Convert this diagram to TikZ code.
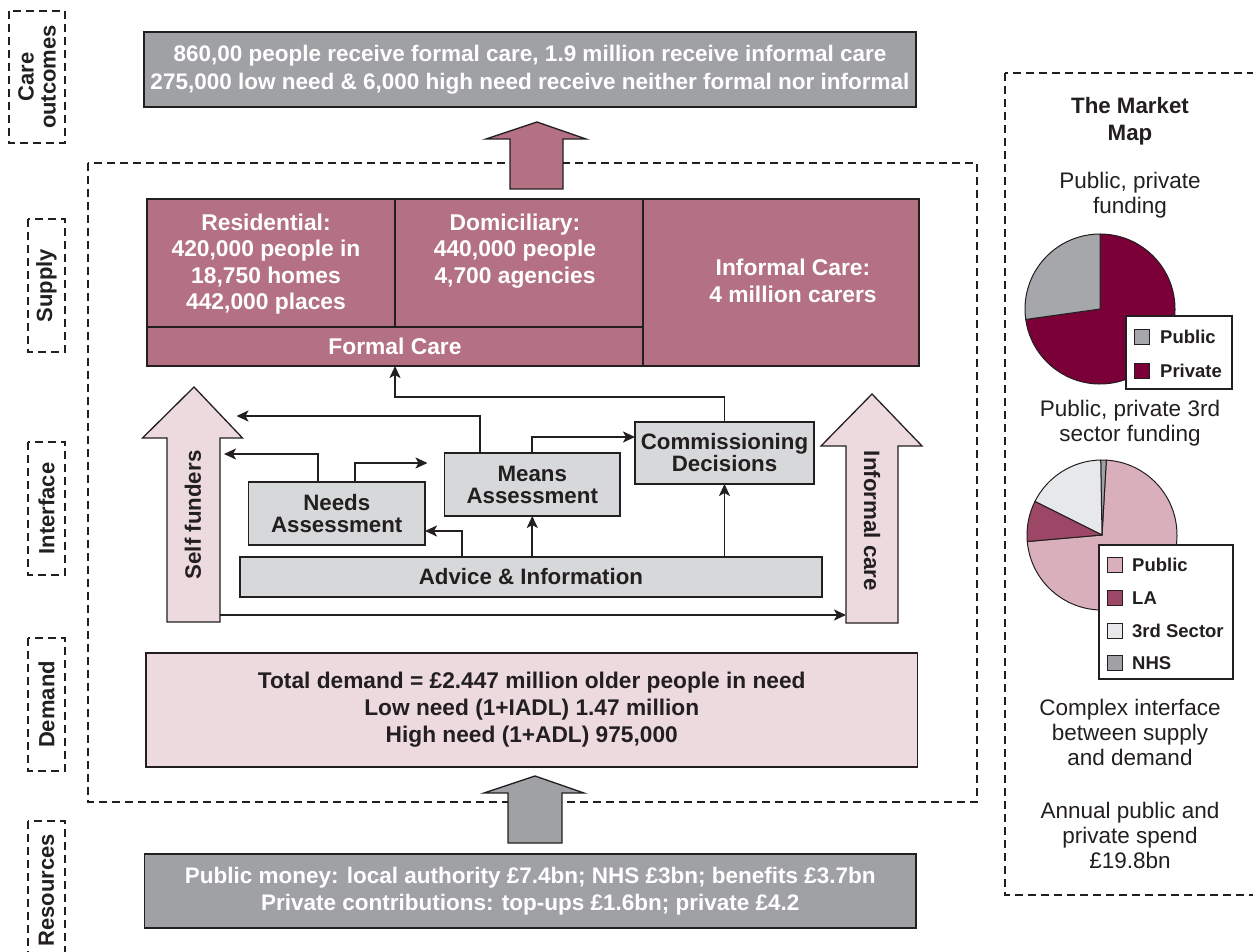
\documentclass[tikz,border=0pt]{standalone}
\usepackage{fontspec}
\setmainfont{Liberation Sans}
\usetikzlibrary{arrows.meta}

\definecolor{ink}{HTML}{231F20}
\definecolor{mauve}{HTML}{B57184}
\definecolor{blush}{HTML}{ECDADF}
\definecolor{slate}{HTML}{A0A1A4}
\definecolor{mist}{HTML}{D7D8DA}
\definecolor{wine}{HTML}{7A0037}
\definecolor{rose}{HTML}{D9AFBB}
\definecolor{berry}{HTML}{9D4766}
\definecolor{pale}{HTML}{E7E8EA}
\definecolor{pubgray}{HTML}{A6A7AA}

\tikzset{
  sidetag/.style={draw=ink, dash pattern=on 8pt off 5pt, line width=1.2pt,
    rotate=90, inner sep=0pt, align=center,
    font=\fontsize{22}{22}\selectfont\bfseries},
  frame/.style={draw=ink, dash pattern=on 8pt off 5pt, line width=1.2pt},
  panel/.style={draw=ink, line width=1.5pt, inner sep=0pt, outer sep=0pt,
    anchor=north west, align=center},
  txt/.style={inner sep=0pt, align=center},
  conn/.style={draw=ink, line width=1.8pt,
    -{Stealth[length=12pt,width=11pt,inset=3pt]}},
  blockarrow/.style={draw=ink, line width=1.3pt, line join=miter},
  slice/.style={draw=ink, line width=1pt, line join=round},
  swatch/.style={draw=ink, line width=1pt, minimum width=15pt,
    minimum height=15pt, inner sep=0pt, anchor=west},
  legtext/.style={inner sep=0pt, anchor=west,
    font=\fontsize{18.5}{18.5}\selectfont\bfseries},
  note/.style={inner sep=0pt, align=center,
    font=\fontsize{22.5}{25}\selectfont},
}

\begin{document}
\begin{tikzpicture}[x=1pt,y=-1pt, text=ink,
  font=\fontsize{22.3}{22}\selectfont\bfseries]
\useasboundingbox (0,0) rectangle (1253,952);
\clip (0,0) rectangle (1253,952);

% ---- row tags on the left ----
\node[sidetag, minimum width=132pt, minimum height=56pt] (tagout) at (37,77) {Care\\outcomes};
\node[sidetag, minimum width=133pt, minimum height=37pt] (tagsup) at (46.5,285.5) {Supply};
\node[sidetag, minimum width=133pt, minimum height=37pt] (tagint) at (46.5,508.5) {Interface};
\node[sidetag, minimum width=133pt, minimum height=37pt] (tagdem) at (46.5,704.5) {Demand};
\node[sidetag, minimum width=139pt, minimum height=37pt] (tagres) at (46.5,890.5) {Resources};

% ---- dashed frames ----
\draw[frame] (88,163) rectangle (977,802);
\draw[frame] (1005,73) rectangle (1270,895);

% ---- care outcomes ----
\node[panel, fill=slate, minimum width=772pt, minimum height=75pt,
  text=white, font=\fontsize{22.5}{28}\selectfont\bfseries] (outcome) at (144,32)
  {860,00 people receive formal care, 1.9 million receive informal care\\
   275,000 low need \& 6,000 high need receive neither formal nor informal};

% ---- supply ----
\node[panel, fill=mauve, minimum width=248pt, minimum height=128pt] (res) at (147,199) {};
\node[panel, fill=mauve, minimum width=248pt, minimum height=128pt] (dom) at (395,199) {};
\node[panel, fill=mauve, minimum width=496pt, minimum height=39pt] (formal) at (147,327) {};
\node[panel, fill=mauve, minimum width=276pt, minimum height=167pt] (inf) at (643,199) {};
\begin{scope}[every node/.style={txt, text=white, font=\fontsize{22.8}{26.5}\selectfont\bfseries}]
  \node (restext) at (266,264) {Residential:\\420,000 people in\\18,750 homes\\442,000 places};
  \node (domtext) at (515,251) {Domiciliary:\\440,000 people\\4,700 agencies};
  \node (formtext) at (formal.center) {Formal Care};
  \node (inftext) at (793,281) {Informal Care:\\4 million carers};
\end{scope}

% ---- block arrows ----
\filldraw[blockarrow, fill=mauve] (510,189) -- (510,139) -- (486,139) -- (537,122)
  -- (586,139) -- (563,139) -- (563,189) -- cycle;
\filldraw[blockarrow, fill=blush] (167,622) -- (167,438) -- (142.5,438) -- (194,387)
  -- (242.5,438) -- (220,438) -- (220,622) -- cycle;
\filldraw[blockarrow, fill=blush] (846,623) -- (846,446) -- (821,446) -- (872,394)
  -- (922,446) -- (898,446) -- (898,623) -- cycle;
\filldraw[blockarrow, fill=slate] (508,843) -- (508,793) -- (484,793) -- (535,776)
  -- (584,793) -- (562,793) -- (562,843) -- cycle;
\node[txt, rotate=90] (selftext) at (193,515) {Self funders};
\node[txt, rotate=-90] (infctext) at (872,521) {Informal care};

% ---- interface ----
\node[panel, fill=mist, minimum width=176.5pt, minimum height=63pt] (needs) at (248.5,482) {Needs\\Assessment};
\node[panel, fill=mist, minimum width=175.5pt, minimum height=63pt] (means) at (444.5,453) {Means\\Assessment};
\node[panel, fill=mist, minimum width=179pt, minimum height=62pt] (comm) at (635,422) {Commissioning\\Decisions};
\node[panel, fill=mist, minimum width=582pt, minimum height=40pt] (advice) at (240,557) {Advice \& Information};

\coordinate (sfA) at (224,454);
\coordinate (sfB) at (236.5,416);
\coordinate (nfree) at (427.5,463);
\coordinate (sfOut) at (220,615);
\coordinate (icIn) at (846,615);

\draw[conn] ([xshift=-18.5pt]needs.north) |- (sfA);
\draw[conn] ([xshift=18.5pt]needs.north) |- (nfree);
\draw[conn] ([xshift=-52.25pt]means.north) |- (sfB);
\draw[conn] (means.north) |- ([yshift=16pt]comm.west);
\draw[conn] (comm.north) -- ++(0,-25) -| (formal.south);
\draw[conn] ([xshift=-69pt]advice.north) |- ([yshift=-17.5pt]needs.east);
\draw[conn] (advice.north -| means.south) -- (means.south);
\draw[conn] (advice.north -| comm.south) -- (comm.south);
\draw[conn] (sfOut) -- (icIn);

% ---- demand and resources ----
\node[panel, fill=blush, minimum width=771.5pt, minimum height=114pt,
  font=\fontsize{22.7}{27}\selectfont\bfseries] (demand) at (146,653)
  {Total demand = £2.447 million older people in need\\
   Low need (1+IADL) 1.47 million\\
   High need (1+ADL) 975,000};
\node[panel, fill=slate, minimum width=771.5pt, minimum height=74pt, text=white,
  font=\fontsize{22.5}{27}\selectfont\bfseries] (resources) at (144.5,854)
  {Public money: local authority £7.4bn; NHS £3bn; benefits £3.7bn\\
   Private contributions: top-ups £1.6bn; private £4.2};

% ---- market map panel ----
\node[txt, font=\fontsize{22.3}{27}\selectfont\bfseries] (mmtitle) at (1130,121) {The Market\\Map};
\node[note] (pie1title) at (1130,195.5) {Public, private\\funding};
\node[note] (pie2title) at (1130,423.5) {Public, private 3rd\\sector funding};
\node[note] (iface) at (1130,732) {Complex interface\\between supply\\and demand};
\node[note] (spend) at (1130,835) {Annual public and\\private spend\\£19.8bn};

% first pie: public / private
\begin{scope}[shift={(1100,309)}, y=1pt]
  \filldraw[slice, fill=wine] (0,0) -- (188:75pt) arc[start angle=188, end angle=450, radius=75pt] -- cycle;
  \filldraw[slice, fill=pubgray] (0,0) -- (90:75pt) arc[start angle=90, end angle=188, radius=75pt] -- cycle;
\end{scope}
\node[panel, fill=white, minimum width=106pt, minimum height=73pt] (leg1) at (1126,316) {};
\node[swatch, fill=pubgray] (sw1a) at (1134,337) {};
\node[legtext] (lg1a) at (1160,337) {Public};
\node[swatch, fill=wine] (sw1b) at (1134,371) {};
\node[legtext] (lg1b) at (1160,371) {Private};

% second pie: public / LA / 3rd sector / NHS
\begin{scope}[shift={(1102,535)}, y=1pt]
  \filldraw[slice, fill=rose] (0,0) -- (185:75pt) arc[start angle=185, end angle=446.7, radius=75pt] -- cycle;
  \filldraw[slice, fill=slate] (0,0) -- (86.7:75pt) arc[start angle=86.7, end angle=91, radius=75pt] -- cycle;
  \filldraw[slice, fill=pale] (0,0) -- (91:75pt) arc[start angle=91, end angle=153.4, radius=75pt] -- cycle;
  \filldraw[slice, fill=berry] (0,0) -- (153.4:75pt) arc[start angle=153.4, end angle=185, radius=75pt] -- cycle;
\end{scope}
\node[panel, fill=white, minimum width=134pt, minimum height=134pt] (leg2) at (1099,545) {};
\node[swatch, fill=rose] (sw2a) at (1107,565) {};
\node[legtext] (lg2a) at (1132,565) {Public};
\node[swatch, fill=berry] (sw2b) at (1107,598) {};
\node[legtext] (lg2b) at (1132,598) {LA};
\node[swatch, fill=pale] (sw2c) at (1107,631) {};
\node[legtext] (lg2c) at (1132,631) {3rd Sector};
\node[swatch, fill=slate] (sw2d) at (1107,663) {};
\node[legtext] (lg2d) at (1132,663) {NHS};
\end{tikzpicture}
\end{document}
